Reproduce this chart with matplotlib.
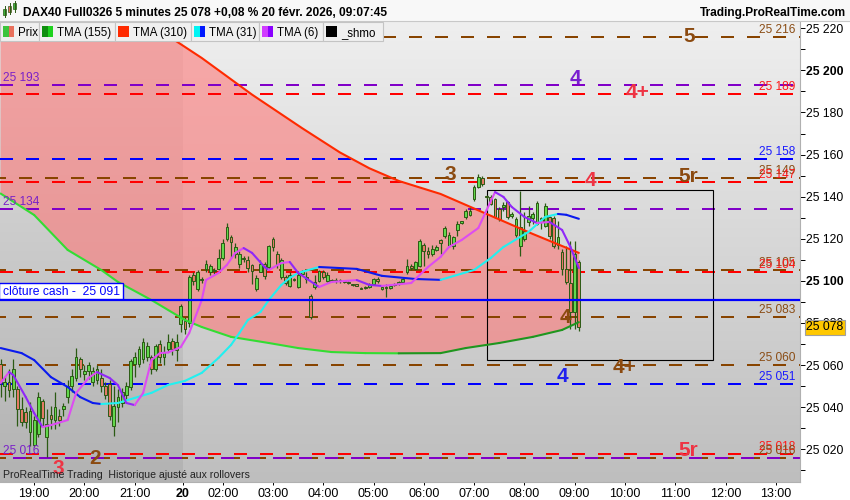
import matplotlib
matplotlib.use("Agg")
import matplotlib.pyplot as plt
import numpy as np
from matplotlib.patches import Rectangle
from matplotlib.collections import LineCollection
import matplotlib.transforms as mtransforms

plt.rcParams['font.family'] = ['Liberation Sans', 'DejaVu Sans']

# ---------------- data ----------------
title_text = "DAX40 Full0326 5 minutes 25 078 +0,08 % 20 févr. 2026, 09:07:45"
site_text = "Trading.ProRealTime.com"
footer_text = "ProRealTime Trading  Historique ajusté aux rollovers"
cash_text = "clôture cash -  25 091"
cash_level = 25091
last_price = 25078

legend_items = ["Prix", "TMA (155)", "TMA (310)", "TMA (31)", "TMA (6)", "_shmo"]
legend_swatch = [("#3cc43c", "#e8705c"), ("#0f8f0f", "#1ed21e"), ("#ff2a00", "#ff2a00"),
                 ("#00f4f4", "#0018ff"), ("#d03cff", "#8a00ff"), ("#000000", "#000000")]

# 5-minute bars: Feb 19 session from 18:20 (44 bars), Feb 20 session from 01:15 (95 bars)
sess1_start, sess1_bars = "18:20", 44
sess2_start, sess2_bars = "01:15", 95

opens = [25060.4, 25050, 25052, 25048.5, 25048.5, 25039, 25037.5, 25028, 25022, 25027.5,
         25043, 25026, 25036.5, 25034, 25036, 25039, 25044.7, 25050, 25054, 25063,
         25056, 25057, 25052, 25053, 25054, 25050, 25051, 25031, 25040, 25042,
         25046, 25049.5, 25060.4, 25060.4, 25062.8, 25063.7, 25063.7, 25058, 25070, 25064,
         25067.5, 25071.5, 25067, 25079.4,
         25080.8, 25080, 25103, 25096, 25101, 25105.5, 25104, 25105, 25105.5, 25111,
         25120, 25121, 25112.6, 25108, 25111, 25110, 25107.5, 25096, 25104, 25108,
         25106.5, 25119.8, 25113, 25101.7, 25102, 25097.5, 25100.8, 25097, 25103.5, 25102,
         25093, 25097, 25100, 25104, 25100, 25100.5, 25100, 25100.5, 25100, 25099.5,
         25098.2, 25098, 25096.5, 25096.5, 25097, 25098.4, 25101, 25096, 25097, 25096.5,
         25098, 25098.5, 25099.5, 25104, 25107, 25105.5, 25107, 25117, 25114, 25113,
         25114.5, 25119.5, 25121.2, 25116.4, 25116.4, 25124, 25127.7, 25130.2, 25131.5, 25138.8,
         25144.5, 25149, 25140, 25139.7, 25138.8, 25134, 25135, 25137.3, 25131, 25122,
         25116.4, 25119.8, 25128, 25130, 25127, 25130, 25126, 25130.2, 25130, 25117,
         25113.6, 25105.5, 25099, 25085, 25108.8]
highs = [25062.8, 25055, 25058, 25062.8, 25050, 25044.7, 25040, 25042.3, 25036, 25047,
         25044, 25039, 25040.5, 25047, 25039, 25042, 25053, 25058, 25068, 25064,
         25060, 25061.5, 25059, 25060, 25058, 25052, 25053, 25050, 25048.5, 25049,
         25052, 25063, 25066, 25069, 25073, 25071, 25065, 25070, 25072, 25069,
         25074.6, 25073, 25074.6, 25089,
         25083, 25103, 25104, 25105, 25102, 25110, 25108, 25106, 25115, 25120,
         25127.5, 25122, 25118, 25114, 25112, 25112, 25108, 25103, 25110, 25109,
         25117, 25121, 25114, 25111, 25103, 25104, 25101.5, 25104, 25105, 25104,
         25094, 25103, 25105, 25105, 25104, 25101, 25101.5, 25101, 25100.5, 25100,
         25098.5, 25098.5, 25097, 25097.5, 25099, 25101.5, 25102, 25097.5, 25098.4, 25098,
         25099, 25100, 25102, 25110.3, 25108, 25109.5, 25120, 25118, 25116, 25117,
         25117, 25120, 25126, 25123, 25121.5, 25128.3, 25128.5, 25134, 25135.5, 25145.5,
         25150.6, 25150, 25141, 25141, 25139.5, 25135, 25137.3, 25138, 25132.5, 25130.5,
         25142.6, 25132.5, 25135.5, 25132.5, 25138, 25130.5, 25137, 25131, 25131, 25128.3,
         25115, 25116.4, 25118.8, 25119, 25110]
lows = [25044.7, 25043, 25045, 25044.7, 25031, 25031, 25030, 25021.4, 25021, 25026,
        25031, 25016.2, 25029.5, 25029.5, 25031, 25036, 25042, 25047, 25052.3, 25054.5,
        25053, 25053.3, 25050, 25051, 25047, 25044, 25034, 25026.2, 25033, 25040,
        25044, 25048, 25054.5, 25059, 25061, 25062, 25056, 25057, 25061, 25060,
        25066, 25065, 25061.8, 25075.6,
        25075, 25078, 25098, 25095, 25099, 25104, 25103, 25103.5, 25105, 25110,
        25119, 25111, 25111, 25106, 25109, 25104, 25098.4, 25095, 25104, 25101,
        25105, 25114, 25106, 25101, 25098, 25097, 25100, 25096.5, 25103, 25099,
        25081.8, 25096, 25099.5, 25101, 25099.5, 25099.5, 25099, 25099, 25099, 25098.5,
        25097.5, 25097.5, 25096, 25096, 25096.5, 25098, 25099, 25095.5, 25092.2, 25096,
        25097.5, 25098, 25099, 25103.5, 25105, 25105, 25106.5, 25107, 25111, 25112,
        25114, 25112.6, 25120.5, 25116, 25115, 25121.2, 25127, 25129.5, 25131, 25138,
        25144, 25145, 25139, 25136, 25129.8, 25128.5, 25133.1, 25129.5, 25130, 25121,
        25111.7, 25119, 25126, 25127, 25126.5, 25124.5, 25125.5, 25120, 25115.5, 25115,
        25103, 25098.4, 25077, 25077, 25076]
closes = [25051.8, 25052, 25048, 25058, 25039, 25033, 25033, 25038, 25034, 25045,
          25035, 25032, 25034.3, 25040, 25034, 25040.5, 25050, 25055, 25063.7, 25058,
          25057, 25060, 25057, 25058, 25050, 25046, 25035.7, 25040.5, 25045, 25047,
          25050, 25062, 25063.7, 25067.5, 25071, 25069, 25058, 25069, 25063.7, 25066,
          25071, 25067.5, 25071, 25088,
          25077, 25102, 25100, 25104, 25100.5, 25108, 25107, 25104.5, 25111, 25118,
          25125.5, 25118.3, 25116, 25112.6, 25110.5, 25106, 25104.5, 25101.5, 25108, 25102.5,
          25116.4, 25116, 25108, 25110, 25099, 25103, 25100.3, 25103, 25104.5, 25101,
          25083, 25099.5, 25104.5, 25102, 25103, 25100, 25100.5, 25100, 25099.5, 25099,
          25098, 25097.8, 25096.2, 25097, 25098, 25101, 25100, 25097, 25096.5, 25097.5,
          25098.4, 25099.5, 25101, 25107, 25106, 25108.8, 25119, 25114, 25113, 25115,
          25116, 25118, 25125, 25122, 25120.7, 25127, 25128, 25133.1, 25133, 25144.5,
          25149.2, 25146, 25139.7, 25136.4, 25130.2, 25129.3, 25136, 25130.2, 25131.5, 25129.5,
          25125.5, 25123.6, 25131, 25132, 25137, 25128, 25135.5, 25121.5, 25116.5, 25121,
          25105.5, 25099.3, 25085, 25113, 25078]

# moving averages sampled at bar indices (0 = first bar)
tma310_idx = [0, 14, 28, 36, 48, 60, 72, 81, 88, 95, 105, 116, 127, 138]
tma310_val = [25262, 25245.3, 25228.7, 25221.6, 25205.9, 25188.5, 25172.5, 25161.0, 25153.5,
              25147.5, 25141.3, 25131.8, 25122.3, 25113.3]
tma155_idx = [0, 8, 16, 24, 28, 36, 44, 48, 55, 64, 71, 79, 87, 95, 105, 111, 119, 127, 134, 138]
tma155_val = [25141.5, 25131.3, 25114.7, 25105.2, 25099.5, 25090.9, 25081.4, 25078.1, 25073.4,
              25070.5, 25068.1, 25066.2, 25065.7, 25065.6, 25065.7, 25068.1, 25070.5, 25073.4,
              25076.7, 25080.4]
tma31_idx = [0, 5, 8, 12, 16, 19, 22, 24, 28, 32, 36, 40, 44, 48, 52, 55, 57, 59, 62, 64, 67, 69,
             71, 76, 85, 91, 99, 105, 113, 117, 120, 126, 130, 133, 135, 138]
tma31_val = [25068.1, 25065.7, 25062.4, 25054.3, 25049.6, 25044.8, 25042.0, 25041.5, 25042.0,
             25044.4, 25046.8, 25050.6, 25052.5, 25056.3, 25063.4, 25069.6, 25075.3, 25081.4,
             25085.2, 25090.9, 25098.1, 25101.4, 25103.8, 25106.6, 25105.7, 25102.4, 25100.9,
             25100.5, 25105.2, 25110.9, 25116.1, 25123.3, 25130.4, 25131.8, 25131.4, 25129.5]
tma6_idx = [0, 2, 3, 6, 8, 10, 12, 16, 18, 21, 23, 26, 28, 30, 32, 34, 36, 38, 40, 43, 45, 48, 49,
            52, 54, 56, 58, 60, 63, 64, 67, 69, 71, 76, 79, 85, 88, 91, 98, 102, 105, 107, 110,
            114, 116, 118, 120, 122, 125, 128, 131, 134, 136, 138]
tma6_val = [25051.5, 25056.7, 25055.3, 25044.8, 25037.2, 25030.6, 25031.5, 25033.9, 25046.7,
            25053.9, 25056.7, 25053.9, 25050.5, 25042.0, 25041.0, 25046.7, 25062.4, 25065.7,
            25066.0, 25068.6, 25075.2, 25090.9, 25100.4, 25103.8, 25107.6, 25113.3, 25115.6,
            25113.3, 25106.6, 25105.2, 25108.5, 25109.0, 25103.8, 25097.1, 25099.5, 25100.4,
            25098.1, 25097.6, 25099.0, 25106.6, 25111.4, 25116.1, 25119.4, 25125.1, 25133.7,
            25142.2, 25139.9, 25135.1, 25130.4, 25127.5, 25128.0, 25124.2, 25116.1, 25106.1]

# horizontal levels
levels = [25216, 25193, 25189, 25158, 25149, 25147, 25134, 25105, 25104, 25083, 25060, 25051,
          25018, 25016, 25016]
level_kind = ['brown', 'purple', 'red', 'blue', 'brown', 'red', 'purple', 'brown', 'red', 'brown',
              'brown', 'blue', 'red', 'brown', 'purple']

# zone labels: text, colour kind, level
zone_text = ["5", "4", "4+", "3", "5r", "4", "4", "4+", "4", "5r", "2", "3"]
zone_kind = ['brown', 'purple', 'red', 'brown', 'brown', 'red', 'brown', 'brown', 'blue', 'red',
             'brown', 'red']
zone_level = [25216, 25193, 25189, 25149, 25149, 25147, 25083, 25060, 25051, 25018, 25016, 25016]

# rectangle drawn on chart (Feb 20 times, prices)
box_t0, box_t1 = "07:15", "11:45"
box_p0, box_p1 = 25062.5, 25143

# axis ticks
xtick_day = [19, 19, 19, None, 20, 20, 20, 20, 20, 20, 20, 20, 20, 20, 20, 20]
xtick_time = ["19:00", "20:00", "21:00", None, "02:00", "03:00", "04:00", "05:00", "06:00",
              "07:00", "08:00", "09:00", "10:00", "11:00", "12:00", "13:00"]
xtick_text = ["19:00", "20:00", "21:00", "20", "02:00", "03:00", "04:00", "05:00", "06:00",
              "07:00", "08:00", "09:00", "10:00", "11:00", "12:00", "13:00"]
ytick_major = [25020, 25040, 25060, 25080, 25100, 25120, 25140, 25160, 25180, 25200, 25220]
ytick_minor = [25010, 25030, 25050, 25070, 25090, 25110, 25130, 25150, 25170, 25190, 25210]
ytick_bold = [25100, 25200]

# ---------------- helpers ----------------
def minutes(s):
    h, m = s.split(":")
    return int(h) * 60 + int(m)

def bar_index(day, s):
    if day == 19:
        return (minutes(s) - minutes(sess1_start)) / 5
    return sess1_bars + (minutes(s) - minutes(sess2_start)) / 5

def fmt(v):
    return f"{int(round(v)):,}".replace(",", " ")

line_col = {'brown': '#884400', 'red': '#ff0000', 'purple': '#8000c8', 'blue': '#0000ff'}
lab_col = {'brown': '#8a4c14', 'red': '#ff1818', 'purple': '#7a20c8', 'blue': '#1a1aff'}
big_col = {'brown': '#8b4a10', 'red': '#ee3444', 'purple': '#7a1fd0', 'blue': '#2020ee'}

# ---------------- figure ----------------
W, H = 850, 500
fig = plt.figure(figsize=(W / 100, H / 100), dpi=100, facecolor='white')
PX0, PX1, PY0, PY1 = 0, 800, 21, 482
ax = fig.add_axes([PX0 / W, 1 - PY1 / H, (PX1 - PX0) / W, (PY1 - PY0) / H])

g_left, g_right = -0.15, 190.78
p_top = 25220 + (28.3 - 21) / 2.105
p_bot = 25220 - (482 - 28.3) / 2.105

# background gradients (previous session darker)
split = (bar_index(19, "21:55") + bar_index(20, sess2_start)) / 2
grad = np.linspace(0, 1, 256)[:, None, None]
def gradimg(top, bot):
    return (np.array(top)[None, None, :] * (1 - grad) + np.array(bot)[None, None, :] * grad) / 255.0
ax.imshow(gradimg((226, 226, 226), (178, 178, 178)), extent=[g_left, split, p_bot, p_top],
          aspect='auto', origin='upper', zorder=0, interpolation='bilinear')
ax.imshow(gradimg((239, 239, 239), (190, 190, 190)), extent=[split, g_right, p_bot, p_top],
          aspect='auto', origin='upper', zorder=0, interpolation='bilinear')

# pink zone between TMA310 and TMA155
poly_x = list(tma310_idx) + list(tma155_idx[::-1])
poly_y = list(tma310_val) + list(tma155_val[::-1])
ax.fill(poly_x, poly_y, color=(1.0, 0.45, 0.45), alpha=0.57, lw=0, zorder=1)

# dashed levels
for lv, kd in zip(levels, level_kind):
    off = 3.5 if kd == 'brown' else (6.5 if kd == 'purple' and lv == 25016 else 0)
    ax.axhline(lv, color=line_col[kd], lw=1.44, linestyle=(off, (6.5, 6.5)), zorder=2)

# rectangle
bx0 = bar_index(20, box_t0)
bx1 = bar_index(20, box_t1)
ax.add_patch(Rectangle((bx0, box_p0), bx1 - bx0, box_p1 - box_p0, fill=False, ec='black',
                       lw=0.8, zorder=3))

# candles
idx = np.arange(len(opens))
o = np.array(opens); h = np.array(highs); l = np.array(lows); c = np.array(closes)
wick = '#2b5a14'
ax.vlines(idx, l, h, color=wick, lw=0.9, zorder=5)
for i in idx:
    lo, hi = min(o[i], c[i]), max(o[i], c[i])
    if hi - lo < 0.6:
        hi = lo + 0.6
    fc = '#62d84c' if c[i] >= o[i] else '#e57a66'
    ax.add_patch(Rectangle((i - 0.33, lo), 0.66, hi - lo, fc=fc, ec=wick, lw=0.7, zorder=5.1))

# moving averages
def colored_line(xs, ys, up, down, lw=1.5, z=6):
    xs = np.array(xs, float); ys = np.array(ys, float)
    segs = [[(xs[k], ys[k]), (xs[k + 1], ys[k + 1])] for k in range(len(xs) - 1)]
    cols = [up if ys[k + 1] > ys[k] else down for k in range(len(xs) - 1)]
    lc = LineCollection(segs, colors=cols, linewidths=lw, capstyle='round', joinstyle='round',
                        zorder=z)
    ax.add_collection(lc)

colored_line(tma155_idx, tma155_val, '#1f961f', '#33dd33')
ax.plot(tma310_idx, tma310_val, color='#ff2a00', lw=1.5, zorder=6, solid_capstyle='round')
colored_line(tma31_idx, tma31_val, '#22f0f0', '#0a1aee')
colored_line(tma6_idx, tma6_val, '#dd4cf2', '#9028f8')

# cash close line
ax.axhline(cash_level, color='#0000ff', lw=1.6, zorder=7)

ax.set_xlim(g_left, g_right)
ax.set_ylim(p_bot, p_top)

# axes styling
for s in ['top', 'left']:
    ax.spines[s].set_visible(False)
ax.spines['right'].set_color('#b0b0b0')
ax.spines['bottom'].set_color('#b0b0b0')
ax.yaxis.tick_right()
ax.set_yticks(ytick_major)
ax.set_yticklabels([fmt(v) for v in ytick_major])
for lab, v in zip(ax.get_yticklabels(), ytick_major):
    lab.set_fontsize(8.8)
    if v in ytick_bold:
        lab.set_fontweight('bold')
ax.set_yticks(ytick_minor, minor=True)
ax.tick_params(axis='y', which='both', length=3.6, width=0.7, pad=1.0, colors='black')

xpos = []
for d, t in zip(xtick_day, xtick_time):
    xpos.append(split if d is None else bar_index(d, t))
ax.set_xticks(xpos)
ax.set_xticklabels(xtick_text)
for lab, t in zip(ax.get_xticklabels(), xtick_text):
    lab.set_fontsize(9)
    if t == "20":
        lab.set_fontweight('bold')
ax.tick_params(axis='x', which='both', length=2.5, width=0.7, pad=1.5, colors='black')

# current price marker
trans = mtransforms.blended_transform_factory(ax.transAxes, ax.transData)
ax.annotate(fmt(last_price), xy=(1.0, last_price), xycoords=trans, xytext=(4.6, 0),
            textcoords='offset points', va='center', ha='left', fontsize=8.8, color='black',
            bbox=dict(boxstyle='square,pad=0.12', fc='#ffc800', ec='#a0a0a0', lw=0.8),
            annotation_clip=False, zorder=20)

# ---------------- overlay (pixel coordinates) ----------------
def ypx(p):
    return H - ax.transData.transform((0, p))[1]

ov = fig.add_axes([0, 0, 1, 1], zorder=10)
ov.set_xlim(0, W); ov.set_ylim(H, 0); ov.axis('off'); ov.patch.set_alpha(0)

# level labels
for lv, kd in zip(levels, level_kind):
    if kd == 'purple':
        ov.text(3, ypx(lv) - 4, fmt(lv), color=lab_col[kd], fontsize=8.6, ha='left',
                va='baseline')
    else:
        ov.text(795, ypx(lv) - 4, fmt(lv), color=lab_col[kd], fontsize=8.6, ha='right',
                va='baseline')

# zone labels (x in px, vertical offset in px)
zone_x = [689, 575, 638, 450, 688, 590, 565, 625, 562, 688, 95, 58]
zone_dy = [-2, -9, -3, -5, -3, -3, -1, 1, -9, -5, -1, 9]
for txt, kd, lv, zx, dy in zip(zone_text, zone_kind, zone_level, zone_x, zone_dy):
    ov.text(zx, ypx(lv) + dy + 7.4, txt, color=big_col[kd], fontsize=15, fontweight='bold',
            ha='center', va='baseline')

# cash label box
yc = ypx(cash_level)
ov.add_patch(Rectangle((-1, yc - 17), 124, 16, fc='white', ec='#0000ff', lw=1.0))
ov.text(3, yc - 4.5, cash_text, color='#0000ff', fontsize=8.7, ha='left', va='baseline')

# footer
ov.text(3, 478.5, footer_text, color='#222222', fontsize=7.6, ha='left', va='baseline')

# title bar
ov.add_patch(Rectangle((0, 0), W, 20.5, fc='#f8f8f8', ec='none'))
ov.plot([0, W], [20.5, 20.5], color='#c8c8c8', lw=0.8)
ov.text(23, 16.3, title_text, fontsize=8.6, fontweight='bold', color='black', ha='left',
        va='baseline')
ov.text(846, 16.3, site_text, fontsize=8.6, fontweight='bold', color='black', ha='right',
        va='baseline')
# small candle icon
for cx, y0, y1, w0, w1, col in [(5, 9, 15, 6, 17, '#3cb43c'), (10, 6, 12, 3, 14, '#e8705c'),
                                (15, 3, 9, 1, 12, '#3cb43c')]:
    ov.plot([cx, cx], [w0, w1], color='#2b5a14', lw=0.7)
    ov.add_patch(Rectangle((cx - 1.5, y0), 3, y1 - y0, fc=col, ec='#2b5a14', lw=0.5))

# legend bar
bounds = [0, 39, 115, 191, 259, 323, 383]
for k, name in enumerate(legend_items):
    x0, x1 = bounds[k], bounds[k + 1]
    ov.add_patch(Rectangle((x0, 21.5), x1 - x0, 19.5, fc='#f0f0f0', ec='#c4c4c4', lw=0.8))
    c1, c2 = legend_swatch[k]
    ov.add_patch(Rectangle((x0 + 3.5, 26), 5.5, 11, fc=c1, ec='none'))
    ov.add_patch(Rectangle((x0 + 9, 26), 5.5, 11, fc=c2, ec='none'))
    ov.text(x0 + 18.5, 36, name, fontsize=8.3, color='black', ha='left', va='baseline')

fig.savefig("out.png", dpi=100, facecolor='white')
